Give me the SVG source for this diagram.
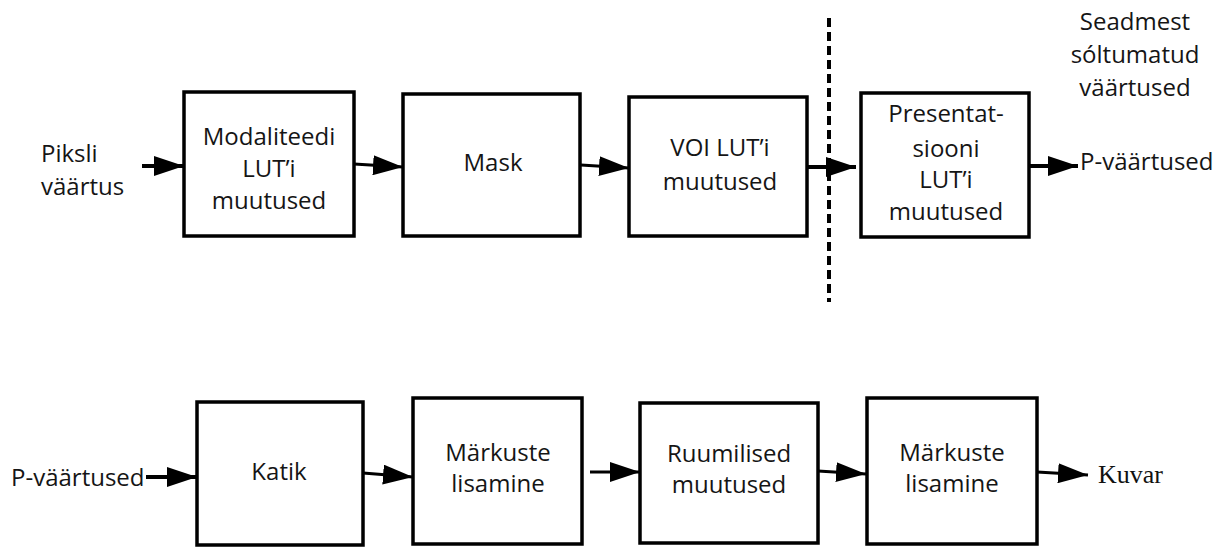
<svg xmlns="http://www.w3.org/2000/svg" width="1228" height="548" viewBox="0 0 1228 548">
<defs>
<marker id="ah" viewBox="0 0 30 20" markerWidth="30" markerHeight="20" refX="30" refY="10" markerUnits="userSpaceOnUse" orient="auto">
<polygon points="0,0 30,10 0,20" fill="#000"/>
</marker>
<style>
.box{fill:#fff;stroke:#000;stroke-width:3.5}
.t{font-family:"Open Sans","Liberation Sans",sans-serif;font-size:24px;fill:#151515;text-anchor:middle}
.tl{font-family:"Open Sans","Liberation Sans",sans-serif;font-size:24px;fill:#151515}
.c{stroke:#000;stroke-width:3;fill:none;marker-end:url(#ah)}
.ct{stroke:#000;stroke-width:4;fill:none;marker-end:url(#ah)}
</style>
</defs>
<rect width="1228" height="548" fill="#fff"/>

<g id="n-piksli">
<text class="tl" x="41" y="162">Piksli</text>
<text class="tl" x="41" y="195">väärtus</text>
</g>
<g id="n-modaliteedi">
<rect class="box" x="184" y="92" width="170" height="144"/>
<text class="t" x="269" y="145">Modaliteedi</text>
<text class="t" x="269" y="177">LUT’i</text>
<text class="t" x="269" y="209">muutused</text>
</g>
<g id="n-mask">
<rect class="box" x="403" y="94" width="177" height="142"/>
<text class="t" x="493" y="171">Mask</text>
</g>
<g id="n-voi">
<rect class="box" x="629" y="97" width="178" height="139"/>
<text class="t" x="720" y="156">VOI LUT’i</text>
<text class="t" x="720" y="190">muutused</text>
</g>
<g id="n-divider">
<line x1="829" y1="18" x2="829" y2="302" stroke="#000" stroke-width="4" stroke-dasharray="9,5"/>
</g>
<g id="n-presentatsiooni">
<rect class="box" x="861" y="93" width="168" height="144"/>
<text class="t" x="946" y="122">Presentat-</text>
<text class="t" x="946" y="157">siooni</text>
<text class="t" x="946" y="188">LUT’i</text>
<text class="t" x="946" y="220">muutused</text>
</g>
<g id="n-seadmest">
<text class="t" x="1135" y="30">Seadmest</text>
<text class="t" x="1135" y="63">sóltumatud</text>
<text class="t" x="1135" y="96">väärtused</text>
</g>
<g id="n-pvaartused1">
<text class="tl" x="1080" y="170">P-väärtused</text>
</g>

<g id="n-pvaartused2">
<text class="tl" x="11" y="486">P-väärtused</text>
</g>
<g id="n-katik">
<rect class="box" x="197" y="402" width="166" height="143"/>
<text class="t" x="279" y="480">Katik</text>
</g>
<g id="n-markuste1">
<rect class="box" x="413" y="398" width="169" height="146"/>
<text class="t" x="498" y="461">Märkuste</text>
<text class="t" x="498" y="492">lisamine</text>
</g>
<g id="n-ruumilised">
<rect class="box" x="640" y="403" width="178" height="140"/>
<text class="t" x="729" y="462">Ruumilised</text>
<text class="t" x="729" y="493">muutused</text>
</g>
<g id="n-markuste2">
<rect class="box" x="867" y="398" width="170" height="146"/>
<text class="t" x="952" y="461">Märkuste</text>
<text class="t" x="952" y="492">lisamine</text>
</g>
<g id="n-kuvar">
<text x="1098" y="483" font-family="'Liberation Serif','Times New Roman',serif" font-size="26" fill="#111">Kuvar</text>
</g>

<g id="connectors">
<line class="ct" x1="142" y1="166" x2="184" y2="166"/>
<line class="c" x1="354" y1="164" x2="403" y2="167"/>
<line class="c" x1="581" y1="165" x2="629" y2="168"/>
<line class="ct" x1="807" y1="167" x2="856" y2="167"/>
<line class="ct" x1="1029" y1="166" x2="1078" y2="166"/>
<line class="ct" x1="146" y1="477" x2="197" y2="477"/>
<line class="c" x1="363" y1="473" x2="413" y2="477"/>
<line class="c" x1="590" y1="472" x2="640" y2="472"/>
<line class="c" x1="818" y1="471" x2="866" y2="474"/>
<line class="c" x1="1037" y1="472" x2="1088" y2="475"/>
</g>
</svg>
